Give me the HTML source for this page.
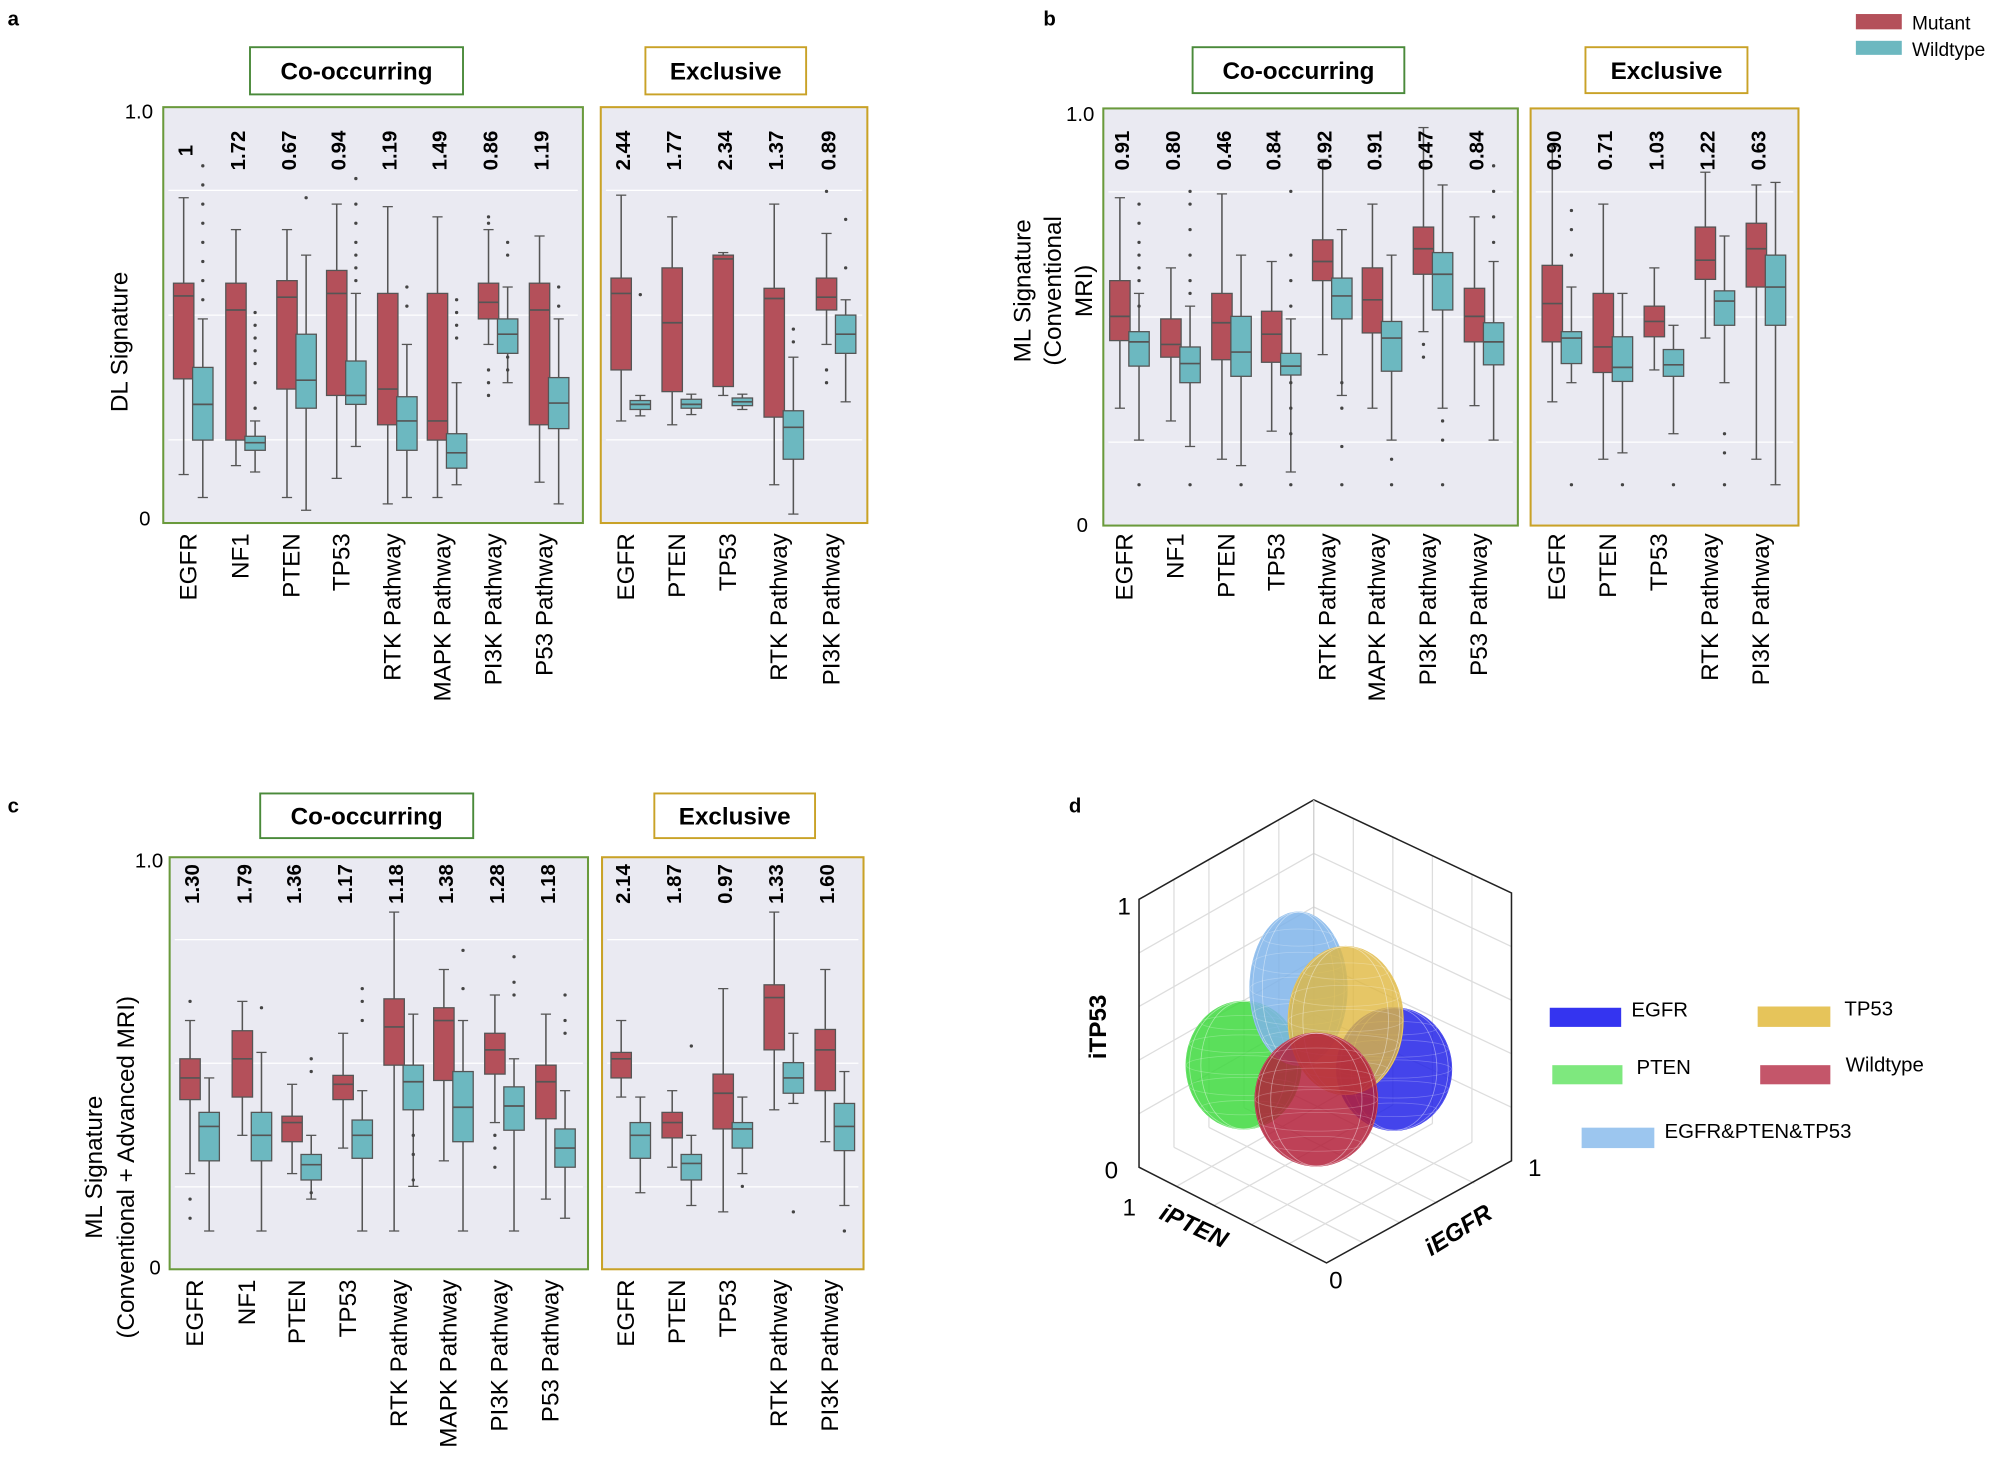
<!DOCTYPE html>
<html><head><meta charset="utf-8"><style>
html,body{margin:0;padding:0;background:#fff;}
svg{display:block;font-family:"Liberation Sans",sans-serif;}
</style></head><body>
<svg id="s" width="2000" height="1467" viewBox="0 0 1568 1150" preserveAspectRatio="none" xmlns="http://www.w3.org/2000/svg">
<rect width="1568" height="1150" fill="#fff"/>
<g id="g"></g>
</svg>
<script>
const g=document.getElementById('g');let h='';
const M='#b4505a',W='#6cb8c0',E='#555';
function panel(x0,x1,y0,y1,col){h+=`<rect x="${x0}" y="${y0}" width="${x1-x0}" height="${y1-y0}" fill="#eaeaf2" stroke="${col}" stroke-width="1.6"/>`;
 for(const f of [0.2,0.5,0.8]){const y=y0+ (y1-y0)*f;h+=`<line x1="${x0+4}" x2="${x1-4}" y1="${y}" y2="${y}" stroke="#fff" stroke-width="1"/>`;}}
function tbox(x0,x1,y0,y1,col,t){h+=`<rect x="${x0}" y="${y0}" width="${x1-x0}" height="${y1-y0}" fill="#fff" stroke="${col}" stroke-width="1.5"/><text x="${(x0+x1)/2}" y="${(y0+y1)/2+7}" font-size="19" font-weight="bold" text-anchor="middle">${t}</text>`;}
function box(cx,q1,md,q3,lo,hi,c,w){w=w||16;
 h+=`<line x1="${cx}" x2="${cx}" y1="${hi}" y2="${lo}" stroke="${E}" stroke-width="1.2"/><line x1="${cx-4}" x2="${cx+4}" y1="${hi}" y2="${hi}" stroke="${E}"/><line x1="${cx-4}" x2="${cx+4}" y1="${lo}" y2="${lo}" stroke="${E}"/>`;
 h+=`<rect x="${cx-w/2}" y="${q1}" width="${w}" height="${q3-q1}" fill="${c}" stroke="${E}" stroke-width="1"/><line x1="${cx-w/2}" x2="${cx+w/2}" y1="${md}" y2="${md}" stroke="${E}" stroke-width="1.3"/>`;}
function dots(cx,ys){for(const y of ys)h+=`<circle cx="${cx}" cy="${y}" r="1.3" fill="#444"/>`;}
function vt(x,y,t,fs,anchor,bold){h+=`<text transform="translate(${x},${y}) rotate(-90)" font-size="${fs}" text-anchor="${anchor}" ${bold?'font-weight="bold"':''}>${t}</text>`;}
function group(cxs,data,nums,labels,numY,labY){
 data.forEach((d,i)=>{const cx=cxs[i];const m=d[0],w=d[1];
  box(cx,m[0],m[1],m[2],m[4],m[3],M);box(cx+15,w[0],w[1],w[2],w[4],w[3],W);
  if(d[2])dots(cx+15,d[2]);if(d[3])dots(cx,d[3]);
  vt(cx+7,numY,nums[i],16,'middle',true);
  vt(cx+10,labY,labels[i],19,'end',false);});}
h+=`<rect x="1455" y="11" width="36" height="12" fill="${M}"/><text x="1499" y="23" font-size="15">Mutant</text><rect x="1455" y="32" width="36" height="11" fill="${W}"/><text x="1499" y="44" font-size="15">Wildtype</text>`;
h+=`<text x="6" y="20" font-size="16" font-weight="bold">a</text><text x="818" y="20" font-size="16" font-weight="bold">b</text><text x="6" y="637" font-size="16" font-weight="bold">c</text><text x="838" y="637" font-size="16" font-weight="bold">d</text>`;
const L8=['EGFR','NF1','PTEN','TP53','RTK Pathway','MAPK Pathway','PI3K Pathway','P53 Pathway'],L5=['EGFR','PTEN','TP53','RTK Pathway','PI3K Pathway'];
panel(128,457,84,410,'#6a9a3c');panel(471,680,84,410,'#c9a227');
tbox(196,363,37,74,'#4a8a3a','Co-occurring');tbox(506,632,37,74,'#c9a227','Exclusive');
h+=`<text x="120" y="93" font-size="16" text-anchor="end">1.0</text><text x="118" y="412" font-size="16" text-anchor="end">0</text>`;vt(100,268,'DL Signature',19,'middle');
group([144,185,225,264,304,343,383,423],[
[[222,232,297,155,372],[288,317,345,390,250],[130,145,160,175,190,205,220,235]],
[[222,243,345,180,365],[342,347,353,370,330],[245,255,265,275,285,300,320]],
[[220,233,305,180,390],[262,298,320,400,200],[155]],
[[212,230,310,160,375],[283,310,317,350,230],[140,160,175,190,200,210,220]],
[[230,305,333,162,395],[311,330,353,390,270],[225,240]],
[[230,330,345,170,390],[340,355,367,380,300],[235,245,255,265]],
[[222,237,250,180,270],[250,262,277,300,225],[190,200,280,290],[170,175,290,300,310]],
[[222,243,333,185,378],[296,316,336,395,250],[225,240]]],
['1','1.72','0.67','0.94','1.19','1.49','0.86','1.19'],L8,118,418);
group([487,527,567,607,648],[
[[218,230,290,153,330],[314,317,321,326,310],[231]],
[[210,253,307,170,333],[313,317,320,325,309]],
[[200,203,303,198,310],[312,315,318,321,309]],
[[226,234,327,160,380],[322,335,360,403,280],[258,268]],
[[218,233,243,183,270],[247,262,277,315,235],[172,210],[150,290,300]]],
['2.44','1.77','2.34','1.37','0.89'],L5,118,418);
panel(865,1190,85,412,'#6a9a3c');panel(1200,1410,85,412,'#c9a227');
tbox(935,1101,37,73,'#4a8a3a','Co-occurring');tbox(1243,1370,37,73,'#c9a227','Exclusive');
h+=`<text x="858" y="95" font-size="16" text-anchor="end">1.0</text><text x="853" y="417" font-size="16" text-anchor="end">0</text>`;
vt(808,228,'ML Signature',19,'middle');vt(832,228,'(Conventional',19,'middle');vt(856,228,'MRI)',19,'middle');
group([878,918,958,997,1037,1076,1116,1156],[
[[220,248,267,155,320],[260,268,287,345,230],[160,175,190,200,210,220,240,380]],
[[250,270,280,210,330],[272,285,300,350,240],[150,160,180,200,220,230,380]],
[[230,253,282,152,360],[248,276,295,365,200],[380]],
[[244,262,284,205,338],[277,287,294,370,250],[150,200,220,240,300,320,340,380]],
[[188,205,220,125,278],[218,232,250,310,180],[300,320,350,380]],
[[210,235,261,160,320],[252,265,291,345,200],[360,380]],
[[178,195,215,100,260],[198,215,243,320,145],[330,345,380],[270,280]],
[[226,248,268,170,318],[253,268,286,345,205],[130,150,170,190]]],
['0.91','0.80','0.46','0.84','0.92','0.91','0.47','0.84'],L8,118,418);
group([1217,1257,1297,1337,1377],[
[[208,238,268,115,315],[260,265,285,300,225],[165,180,200,380]],
[[230,272,292,160,360],[264,288,299,355,230],[380]],
[[240,252,264,210,290],[274,286,295,340,255],[380]],
[[178,204,219,135,265],[228,236,255,300,185],[340,355,380]],
[[175,195,225,145,360],[200,225,255,380,143]]],
['0.90','0.71','1.03','1.22','0.63'],L5,118,418);
panel(133,461,672,995,'#6a9a3c');panel(472,677,672,995,'#c9a227');
tbox(204,371,622,657,'#4a8a3a','Co-occurring');tbox(513,639,622,657,'#c9a227','Exclusive');
h+=`<text x="128" y="680" font-size="16" text-anchor="end">1.0</text><text x="126" y="999" font-size="16" text-anchor="end">0</text>`;
vt(80,915,'ML Signature',19,'middle');vt(105,915,'(Conventional + Advanced MRI)',19,'middle');
group([149,190,229,269,309,348,388,428],[
[[830,845,862,800,920],[872,883,910,965,845],[],[785,940,955]],
[[808,830,860,785,890],[872,890,910,965,825],[790]],
[[875,880,895,850,920],[905,913,925,940,890],[830,840,935]],
[[843,850,862,810,900],[878,890,908,965,855],[775,785,800]],
[[783,805,835,715,965],[835,848,870,930,795],[890,905,925]],
[[790,800,847,760,910],[840,868,895,965,800],[745,775]],
[[810,823,842,780,880],[852,867,886,965,830],[750,770,780],[890,900,915]],
[[835,848,877,795,940],[885,900,915,955,855],[780,800,810]]],
['1.30','1.79','1.36','1.17','1.18','1.38','1.28','1.18'],L8,693,1003);
group([487,527,567,607,647],[
[[825,830,845,800,860],[880,890,908,935,860]],
[[872,880,892,855,915],[905,912,925,945,890],[820]],
[[842,857,885,775,950],[880,885,900,920,860],[930]],
[[772,782,823,715,870],[833,845,857,865,810],[950]],
[[807,823,855,760,895],[865,883,902,945,840],[965]]],
['2.14','1.87','0.97','1.33','1.60'],L5,693,1003);
const gc='#ddd';
for(let i=1;i<5;i++){const t=i/5;
 h+=`<line x1="${893+137*t}" y1="${705-78*t}" x2="${893+137*t}" y2="${915-78*t}" stroke="${gc}"/>`;
 h+=`<line x1="${1030+155*t}" y1="${627+73*t}" x2="${1030+155*t}" y2="${837+73*t}" stroke="${gc}"/>`;
 h+=`<line x1="893" y1="${705+210*t}" x2="1030" y2="${627+210*t}" stroke="${gc}"/><line x1="1030" y1="${627+210*t}" x2="1185" y2="${700+210*t}" stroke="${gc}"/>`;
 h+=`<line x1="${893+137*t}" y1="${915-78*t}" x2="${1040+145*t}" y2="${990-78*t}" stroke="${gc}"/><line x1="${1040-147*t}" y1="${990-75*t}" x2="${1185-155*t}" y2="${910-73*t}" stroke="${gc}"/>`;}
h+=`<path d="M893 705 L1030 627 L1185 700 L1185 910 L1040 990 L893 915 Z" fill="none" stroke="#222" stroke-width="1.2"/><line x1="1030" y1="627" x2="1030" y2="837" stroke="#ccc"/>`;
function sph(cx,cy,rx,ry,c,op){h+=`<ellipse cx="${cx}" cy="${cy}" rx="${rx}" ry="${ry}" fill="${c}" fill-opacity="${op}" stroke="${c}"/>`;
 for(let k=1;k<6;k++){const f=k/6*2-1;h+=`<ellipse cx="${cx}" cy="${cy}" rx="${rx*Math.sqrt(1-f*f)}" ry="${ry}" fill="none" stroke="#fff" stroke-opacity="0.25" stroke-width="0.6"/><ellipse cx="${cx}" cy="${cy+ry*f}" rx="${rx*Math.sqrt(1-f*f)}" ry="${ry*0.15*Math.sqrt(1-f*f)}" fill="none" stroke="#fff" stroke-opacity="0.25" stroke-width="0.6"/>`;}}
sph(1093,838,45,48,'#2323e8',0.85);sph(975,835,45,50,'#3ed93e',0.85);sph(1018,775,38,60,'#7fb4ea',0.85);sph(1055,800,45,58,'#e0b840',0.8);sph(1032,862,48,52,'#b3203a',0.85);
h+=`<text x="876" y="717" font-size="19">1</text><text x="866" y="924" font-size="19">0</text><text x="880" y="953" font-size="19">1</text><text x="1042" y="1010" font-size="19">0</text><text x="1198" y="922" font-size="19">1</text>`;
vt(867,805,'iTP53',19,'middle',true);
h+=`<text transform="translate(908,955) rotate(25)" font-size="19" font-weight="bold" font-style="italic">iPTEN</text><text transform="translate(1122,985) rotate(-32)" font-size="19" font-weight="bold" font-style="italic">iEGFR</text>`;
h+=`<rect x="1215" y="790" width="56" height="15" fill="#3434f0"/><text x="1279" y="797" font-size="16">EGFR</text>
<rect x="1378" y="789" width="57" height="16" fill="#e6c45a"/><text x="1446" y="796" font-size="16">TP53</text>
<rect x="1217" y="835" width="55" height="15" fill="#7ee87e"/><text x="1283" y="842" font-size="16">PTEN</text>
<rect x="1380" y="835" width="55" height="15" fill="#c4566a"/><text x="1447" y="840" font-size="16">Wildtype</text>
<rect x="1240" y="884" width="57" height="16" fill="#9cc6ef"/><text x="1305" y="892" font-size="16">EGFR&amp;PTEN&amp;TP53</text>`;
g.innerHTML=h;
</script>
</body></html>
